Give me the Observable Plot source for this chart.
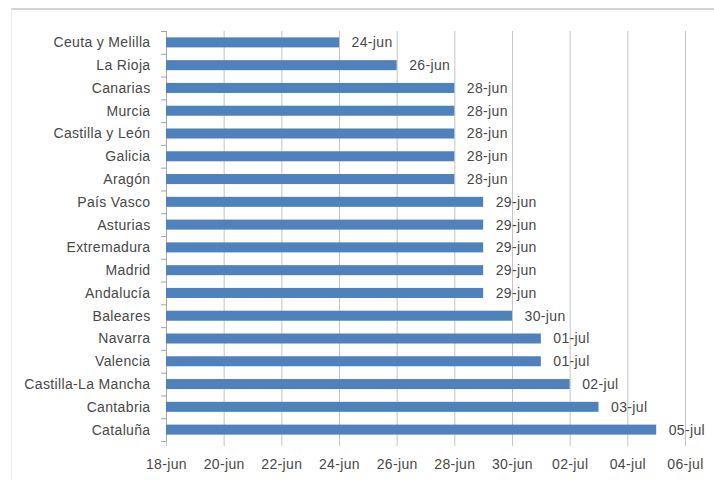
<!DOCTYPE html>
<html>
<head>
<meta charset="utf-8">
<script src="https://cdn.jsdelivr.net/npm/d3@7"></script>
<script src="https://cdn.jsdelivr.net/npm/@observablehq/plot@0.6"></script>
<style>
  html, body { margin: 0; padding: 0; background: #ffffff; }
  #wrap { position: relative; width: 714px; height: 480px; overflow: hidden; }
  #frame { position: absolute; left: 11px; top: 8px; width: 720px; height: 490px;
           border-top: 2px solid #d4d4d4; border-left: 1px solid #ececec; pointer-events: none; }
  #wrap svg text { letter-spacing: 0.35px; }
</style>
</head>
<body>
<div id="wrap"><div id="frame"></div></div>
<script>
const regions = ["Ceuta y Melilla","La Rioja","Canarias","Murcia","Castilla y León","Galicia","Aragón","País Vasco","Asturias","Extremadura","Madrid","Andalucía","Baleares","Navarra","Valencia","Castilla-La Mancha","Cantabria","Cataluña"];
const endLabels = ["24-jun","26-jun","28-jun","28-jun","28-jun","28-jun","28-jun","29-jun","29-jun","29-jun","29-jun","29-jun","30-jun","01-jul","01-jul","02-jul","03-jul","05-jul"];
const startLabel = "18-jun";
const xTickLabels = ["18-jun","20-jun","22-jun","24-jun","26-jun","28-jun","30-jun","02-jul","04-jul","06-jul"];

const months = {jun: 5, jul: 6};
const parse = s => { const [d, m] = s.split("-"); return new Date(Date.UTC(2020, months[m], +d)); };
const fmt = d => String(d.getUTCDate()).padStart(2, "0") + "-" + (d.getUTCMonth() === 5 ? "jun" : "jul");

const data = regions.map((r, i) => ({region: r, date: parse(endLabels[i]), label: endLabels[i]}));
const start = parse(startLabel);
const xTicks = xTickLabels.map(parse);

const W = 714, H = 480, mt = 31, mb = 39, ml = 166, mr = 29;
const step = (H - mt - mb) / regions.length;
const font = "Liberation Sans, Arial, sans-serif";
const textColor = "#484848";
const gridColor = "#c4c4c4";
const axisColor = "#a6a6a6";
const fs = 14;

const chart = Plot.plot({
  width: W, height: H,
  marginTop: mt, marginBottom: mb, marginLeft: ml, marginRight: mr,
  style: {background: "transparent", fontFamily: font},
  x: {type: "utc", domain: [xTicks[0], xTicks[xTicks.length - 1]]},
  y: {domain: regions, paddingInner: 0.56, paddingOuter: 0.28, round: false},
  marks: [
    Plot.gridX(xTicks, {stroke: gridColor, strokeOpacity: 1}),
    Plot.axisX(xTicks, {tickFormat: fmt, tickSize: 5, tickPadding: 13, stroke: gridColor, strokeOpacity: 1, fill: textColor, fontSize: fs, label: null}),
    Plot.axisY({tickSize: 0, tickPadding: 16, fill: textColor, fontSize: fs, label: null}),
    Plot.axisY({tickSize: 5, text: null, dy: step / 2, stroke: axisColor, strokeOpacity: 1, label: null}),
    Plot.axisY([regions[0]], {tickSize: 5, text: null, dy: -step / 2, stroke: axisColor, strokeOpacity: 1, label: null}),
    Plot.ruleX([start], {stroke: axisColor}),
    Plot.barX(data, {y: "region", x1: () => start, x2: "date", fill: "#4f81bd"}),
    Plot.text(data, {y: "region", x: "date", text: "label", textAnchor: "start", dx: 12, fill: textColor, fontSize: fs})
  ]
});
document.getElementById("wrap").prepend(chart);
</script>
</body>
</html>
